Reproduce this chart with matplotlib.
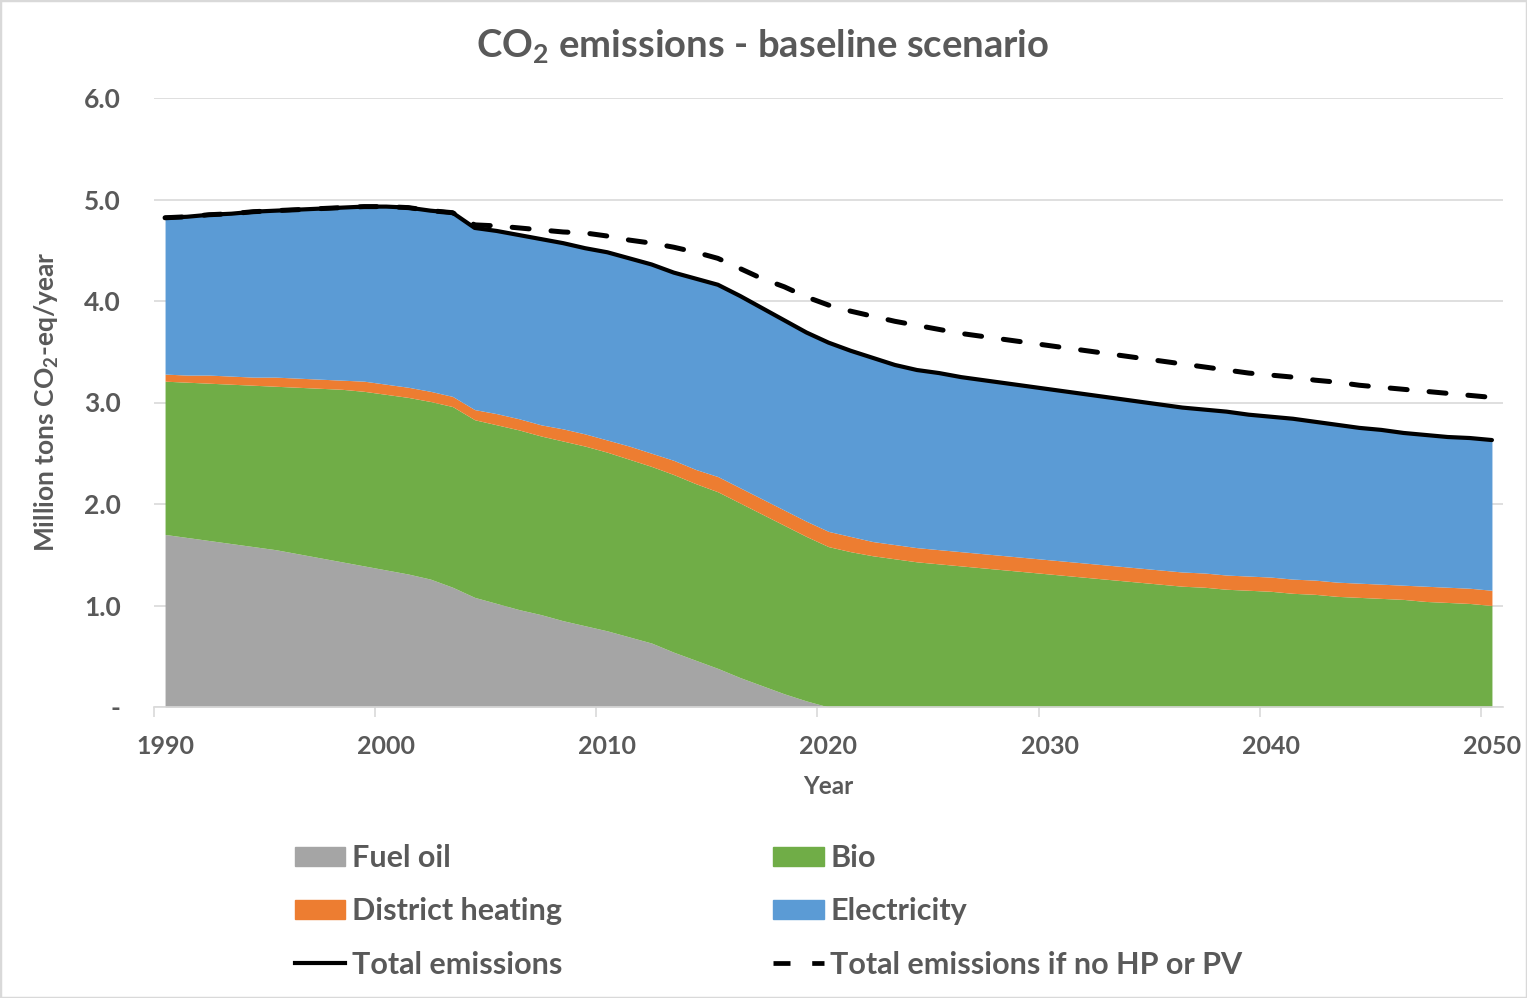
import numpy as np
import matplotlib
matplotlib.use('Agg')
import matplotlib.pyplot as plt
from matplotlib.patches import Patch, Rectangle
from matplotlib.lines import Line2D

plt.rcParams['font.family'] = ['Lato', 'DejaVu Sans']
plt.rcParams['font.weight'] = 'bold'
plt.rcParams['mathtext.fontset'] = 'custom'
plt.rcParams['mathtext.rm'] = 'Lato:bold'
plt.rcParams['mathtext.bf'] = 'Lato:bold'

years = list(range(1990, 2051))

# cumulative tops of the stacked areas
fuel_oil_top = [1.70, 1.67, 1.64, 1.61, 1.58, 1.55, 1.51, 1.47, 1.43, 1.39,
                1.35, 1.31, 1.26, 1.18, 1.08, 1.02, 0.96, 0.91, 0.85, 0.80,
                0.75, 0.69, 0.63, 0.54, 0.46, 0.38, 0.29, 0.21, 0.13, 0.06,
                0.00, 0.00, 0.00, 0.00, 0.00, 0.00, 0.00, 0.00, 0.00, 0.00,
                0.00, 0.00, 0.00, 0.00, 0.00, 0.00, 0.00, 0.00, 0.00, 0.00,
                0.00, 0.00, 0.00, 0.00, 0.00, 0.00, 0.00, 0.00, 0.00, 0.00,
                0.00]
bio_top = [3.21, 3.20, 3.19, 3.18, 3.17, 3.16, 3.15, 3.14, 3.13, 3.11,
           3.08, 3.05, 3.01, 2.96, 2.83, 2.78, 2.73, 2.67, 2.62, 2.57,
           2.51, 2.44, 2.37, 2.29, 2.20, 2.12, 2.01, 1.90, 1.79, 1.68,
           1.58, 1.53, 1.49, 1.46, 1.43, 1.41, 1.39, 1.37, 1.35, 1.33,
           1.31, 1.29, 1.27, 1.25, 1.23, 1.21, 1.19, 1.18, 1.16, 1.15,
           1.14, 1.12, 1.11, 1.09, 1.08, 1.07, 1.06, 1.04, 1.03, 1.02,
           1.00]
district_heating_top = [3.28, 3.27, 3.27, 3.26, 3.25, 3.25, 3.24, 3.23, 3.22, 3.21,
                        3.18, 3.15, 3.11, 3.06, 2.93, 2.89, 2.84, 2.78, 2.74, 2.69,
                        2.63, 2.57, 2.50, 2.43, 2.34, 2.27, 2.16, 2.05, 1.94, 1.83,
                        1.73, 1.68, 1.63, 1.60, 1.57, 1.55, 1.53, 1.51, 1.49, 1.47,
                        1.45, 1.43, 1.41, 1.39, 1.37, 1.35, 1.33, 1.32, 1.30, 1.29,
                        1.28, 1.26, 1.25, 1.23, 1.22, 1.21, 1.20, 1.19, 1.18, 1.17,
                        1.15]
total_emissions = [4.82, 4.83, 4.85, 4.86, 4.88, 4.89, 4.90, 4.91, 4.92, 4.93,
                   4.93, 4.92, 4.89, 4.87, 4.72, 4.69, 4.65, 4.61, 4.57, 4.52,
                   4.48, 4.42, 4.36, 4.28, 4.22, 4.16, 4.05, 3.93, 3.81, 3.69,
                   3.59, 3.51, 3.44, 3.37, 3.32, 3.29, 3.25, 3.22, 3.19, 3.16,
                   3.13, 3.10, 3.07, 3.04, 3.01, 2.98, 2.95, 2.93, 2.91, 2.88,
                   2.86, 2.84, 2.81, 2.78, 2.75, 2.73, 2.70, 2.68, 2.66, 2.65,
                   2.63]
total_no_hp_pv = [4.82, 4.83, 4.85, 4.86, 4.88, 4.89, 4.90, 4.91, 4.92, 4.93,
                  4.93, 4.92, 4.89, 4.87, 4.75, 4.74, 4.72, 4.70, 4.68, 4.67,
                  4.64, 4.60, 4.57, 4.53, 4.48, 4.42, 4.32, 4.22, 4.14, 4.04,
                  3.96, 3.90, 3.85, 3.80, 3.76, 3.72, 3.68, 3.65, 3.62, 3.59,
                  3.56, 3.53, 3.50, 3.47, 3.44, 3.41, 3.38, 3.35, 3.32, 3.29,
                  3.27, 3.25, 3.22, 3.20, 3.17, 3.15, 3.13, 3.11, 3.09, 3.07,
                  3.05]

labels = ['Fuel oil', 'Bio', 'District heating', 'Electricity',
          'Total emissions', 'Total emissions if no HP or PV']
colors = ['#A5A5A5', '#70AD47', '#ED7D31', '#5B9BD5']
txt = '#595959'
grid = '#D9D9D9'

fig = plt.figure(figsize=(15.27, 9.98), dpi=100)
ax = fig.add_axes([154/1527, 1-707/998, (1503-154)/1527, (707-98)/998])

ax.fill_between(years, 0, fuel_oil_top, color=colors[0], lw=0)
ax.fill_between(years, fuel_oil_top, bio_top, color=colors[1], lw=0)
ax.fill_between(years, bio_top, district_heating_top, color=colors[2], lw=0)
ax.fill_between(years, district_heating_top, total_emissions, color=colors[3], lw=0)
ax.plot(years, total_no_hp_pv, color='black', lw=3.6, ls=(0, (3.4, 4.4)),
        dash_capstyle='round', solid_capstyle='round')
ax.plot(years, total_emissions, color='black', lw=3, solid_capstyle='round')

ax.set_xlim(1989.5, 2050.5)
ax.set_ylim(0, 6)
ax.set_yticks(np.arange(0, 6.1, 1.0))
ax.set_yticklabels(['-'] + ['%.1f' % v for v in np.arange(1, 6.1, 1.0)])
ax.set_xticks(range(1990, 2051, 10))
ax.set_xticks(np.arange(1989.5, 2051, 10), minor=True)
ax.tick_params(axis='x', which='major', length=0, pad=20, labelsize=18, labelcolor=txt)
ax.tick_params(axis='x', which='minor', length=7, color=grid, width=1.2)
ax.tick_params(axis='y', length=0, pad=24, labelsize=19, labelcolor=txt)
ax.grid(axis='y', color=grid, lw=1.2)
ax.set_axisbelow(True)
for s in ['top', 'right', 'left']:
    ax.spines[s].set_visible(False)
ax.spines['bottom'].set_color(grid)
ax.spines['bottom'].set_linewidth(1.2)

fig.text(763/1527, 1-47/998, r'CO$_\mathbf{2}$ emissions - baseline scenario',
         ha='center', va='center', fontsize=27.5, color=txt, weight='bold')
fig.text(47/1527, 1-402/998, r'Million tons CO$_\mathbf{2}$-eq/year', rotation=90,
         ha='center', va='center', fontsize=19, color=txt, weight='bold')
fig.text(828/1527, 1-787/998, 'Year', ha='center', va='center',
         fontsize=17.5, color=txt, weight='bold')

handles = [Patch(color=colors[0]), Patch(color=colors[2]),
           Line2D([], [], color='black', lw=3),
           Patch(color=colors[1]), Patch(color=colors[3]),
           Line2D([], [], color='black', lw=3.4, ls=(0, (3.6, 4.6)))]
hl = [labels[0], labels[2], labels[4], labels[1], labels[3], labels[5]]
leg = fig.legend(handles, hl, ncol=2, loc='upper left',
                 bbox_to_anchor=(295/1527, 1-844/998), frameon=False,
                 fontsize=22, handlelength=1.65, handleheight=0.6,
                 handletextpad=0.22, columnspacing=6.9, labelspacing=0.83,
                 borderpad=0, borderaxespad=0)
for t in leg.get_texts():
    t.set_color(txt)

fig.add_artist(Rectangle((0, 0), 1, 1, transform=fig.transFigure, fill=False,
                         edgecolor=grid, lw=2.5))

fig.savefig('out.png', dpi=100)
